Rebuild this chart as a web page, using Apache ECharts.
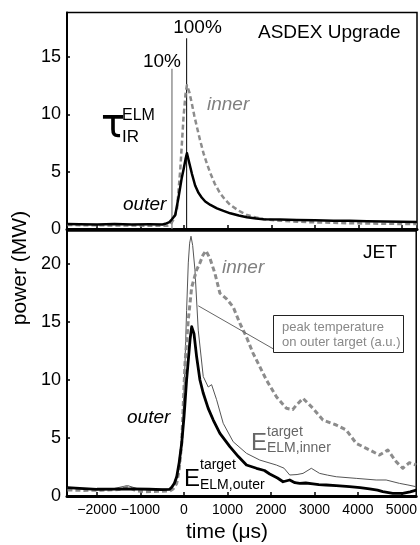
<!DOCTYPE html>
<html>
<head>
    <meta charset="UTF-8">
    <title>index.html</title>
    <script src="https://cdn.jsdelivr.net/npm/echarts@6/dist/echarts.min.js"></script>
    <style>
        html, body { margin: 0; padding: 0; background: #fff; }
        #chart { width: 420px; height: 545px; }
    </style>
</head>
<body>
<div id="chart"></div>
<script>
    // shared time axis (microseconds)
    var timeTicks = [-2000, -1000, 0, 1000, 2000, 3000, 4000, 5000];
    var augTicks = [0, 5, 10, 15];
    var jetTicks = [0, 5, 10, 15, 20];

    // ASDEX Upgrade, outer target power (MW)
    var augOuterT = [-2680, -2400, -2000, -1600, -1200, -800, -500, -436, -340, -282, -206, -130, -60, -16, 30, 61, 120, 177, 250, 328, 400, 482, 600, 750, 900, 1055, 1250, 1437, 1650, 1819, 2200, 2585, 3000, 3424, 3800, 4190, 4600, 5000, 5340];
    var augOuterP = [0.44, 0.42, 0.40, 0.43, 0.39, 0.41, 0.40, 0.45, 0.6, 0.85, 1.22, 2.8, 4.4, 5.2, 6.1, 6.62, 5.7, 4.8, 3.8, 3.15, 2.75, 2.4, 2.1, 1.8, 1.58, 1.37, 1.18, 1.03, 0.92, 0.86, 0.82, 0.79, 0.76, 0.73, 0.72, 0.68, 0.66, 0.63, 0.62];

    // ASDEX Upgrade, inner target power (MW)
    var augInnerT = [-2680, -2300, -1900, -1500, -1100, -700, -400, -321, -250, -167, -92, -16, 30, 61, 120, 177, 230, 291, 360, 443, 520, 596, 700, 826, 940, 1055, 1250, 1437, 1650, 1819, 2200, 2585, 3000, 3424, 3800, 4190, 4600, 5000, 5340];
    var augInnerP = [0.35, 0.33, 0.32, 0.30, 0.30, 0.28, 0.28, 0.35, 0.8, 1.7, 5.15, 9.8, 11.8, 12.55, 11.9, 10.9, 9.9, 8.9, 7.8, 6.6, 5.7, 4.9, 3.95, 3.1, 2.55, 2.1, 1.6, 1.22, 1.0, 0.86, 0.72, 0.64, 0.58, 0.54, 0.5, 0.48, 0.46, 0.44, 0.43];

    // 10% and 100% markers (time, top of line)
    var rise10T = -282, rise10Top = 14.0;
    var peakT = 55, peakTop = 16.65;

    // JET, outer target power (MW)
    var jetOuterT = [-2680, -2400, -2000, -1600, -1200, -800, -500, -330, -282, -220, -167, -110, -53, 0, 23, 60, 99, 140, 177, 230, 291, 367, 440, 557, 673, 826, 1055, 1250, 1437, 1667, 1850, 1972, 2150, 2278, 2431, 2550, 2661, 2800, 2966, 3100, 3272, 3500, 3807, 4050, 4266, 4450, 4572, 4801, 5030, 5200, 5340];
    var jetOuterP = [0.72, 0.65, 0.58, 0.60, 0.62, 0.58, 0.55, 0.58, 0.75, 1.1, 1.66, 2.9, 4.54, 6.8, 8.0, 10.0, 11.7, 13.5, 14.6, 14.0, 12.0, 10.0, 8.9, 7.56, 6.55, 5.4, 4.25, 3.4, 2.67, 2.39, 2.2, 1.9, 1.55, 1.23, 1.38, 1.15, 1.09, 1.12, 1.05, 0.98, 0.95, 0.9, 0.8, 0.72, 0.62, 0.5, 0.37, 0.23, 0.23, 0.35, 0.5];

    // JET, peak temperature on outer target (a.u.)
    var jetTempT = [-2680, -2400, -2000, -1600, -1300, -1000, -600, -330, -250, -167, -92, -30, 23, 60, 99, 130, 161, 200, 252, 328, 443, 557, 596, 635, 750, 902, 1131, 1437, 1743, 2125, 2300, 2431, 2600, 2737, 2928, 3119, 3300, 3502, 3961, 4419, 4649, 4954, 5150, 5340];
    var jetTempP = [0.72, 0.62, 0.55, 0.65, 0.9, 0.55, 0.6, 0.6, 0.9, 1.8, 2.8, 6.0, 11.4, 16.0, 20.1, 21.8, 22.4, 21.6, 19.5, 14.3, 10.3, 9.4, 9.3, 9.6, 8.3, 6.27, 4.68, 3.68, 3.1, 2.67, 2.4, 1.81, 1.85, 1.95, 2.39, 1.95, 1.8, 1.66, 1.52, 1.38, 1.38, 1.09, 0.95, 0.8];

    // JET, inner target power (MW)
    var jetInnerT = [-2680, -2300, -1900, -1500, -1300, -1100, -900, -600, -330, -250, -167, -110, -53, 23, 99, 177, 291, 367, 440, 505, 596, 711, 826, 979, 1131, 1284, 1437, 1590, 1743, 1896, 2125, 2355, 2500, 2585, 2737, 2966, 3195, 3502, 3731, 3961, 4266, 4495, 4686, 4878, 5030, 5183, 5340];
    var jetInnerP = [0.52, 0.48, 0.5, 0.55, 0.8, 0.45, 0.37, 0.4, 0.43, 0.6, 1.09, 2.3, 4.54, 11.4, 15.2, 18.0, 19.5, 20.1, 20.8, 21.15, 20.5, 19.2, 17.5, 17.0, 16.3, 14.9, 13.7, 12.3, 11.15, 10.0, 8.56, 7.56, 7.45, 7.84, 8.42, 7.56, 6.55, 6.12, 5.69, 4.54, 3.97, 3.53, 3.97, 2.96, 2.39, 2.87, 2.67];

    // leader line from temperature curve to its label box
    var leaderT = [328, 2048];
    var leaderP = [16.4, 12.7];

    function zip(t, p) {
        var out = [];
        for (var i = 0; i < t.length; i++) out.push([t[i], p[i]]);
        return out;
    }

    var font = '"Liberation Sans", Arial, sans-serif';
    var tMin = -2690, tMax = 5340;

    function xAxisOf(gridIndex, showLabels) {
        return {
            type: 'value', gridIndex: gridIndex, min: tMin, max: tMax,
            axisLine: {show: true, onZero: false, lineStyle: {color: '#000', width: 3}},
            axisTick: {show: true, inside: true, length: 4, customValues: timeTicks, lineStyle: {color: '#000', width: 1.5}},
            axisLabel: {show: showLabels, customValues: timeTicks, color: '#000', fontSize: 14, fontFamily: font, margin: 7,
                formatter: function (v) { return v < 0 ? '\u2212' + Math.abs(v) : String(v); }},
            splitLine: {show: false}
        };
    }

    function yAxisOf(gridIndex, max, ticks) {
        return {
            type: 'value', gridIndex: gridIndex, min: 0, max: max,
            axisLine: {show: true, onZero: false, lineStyle: {color: '#000', width: 2}},
            axisTick: {show: true, inside: true, length: 3, customValues: ticks, lineStyle: {color: '#000', width: 1.5}},
            axisLabel: {customValues: ticks, color: '#000', fontSize: 18, fontFamily: font, margin: 6},
            splitLine: {show: false}
        };
    }

    function line(name, xi, data, color, width, dashed) {
        return {
            name: name, type: 'line', xAxisIndex: xi, yAxisIndex: xi, data: data,
            symbol: 'none', silent: true,
            lineStyle: {color: color, width: width, type: dashed ? [5, 3] : 'solid', cap: 'butt', join: 'round'}
        };
    }

    function txt(x, y, s, size, color, extra) {
        var st = {text: s, x: 0, y: 0, fill: color || '#000', textVerticalAlign: 'middle', textAlign: 'left',
            font: (extra && extra.italic ? 'italic ' : '') + size + 'px ' + (extra && extra.family ? extra.family : font)};
        if (extra && extra.align) st.textAlign = extra.align;
        return {type: 'text', x: x, y: y, rotation: extra && extra.rot ? extra.rot : 0, style: st, z: 100};
    }

    var chart = echarts.init(document.getElementById('chart'), null, {renderer: 'canvas'});
    chart.setOption({
        animation: false,
        backgroundColor: '#fff',
        grid: [
            {left: 67, top: 12.5, right: 3, height: 216.5, show: true, borderColor: '#000', borderWidth: 1.5},
            {left: 67, top: 231, right: 3, height: 265, show: true, borderColor: '#000', borderWidth: 1.5}
        ],
        xAxis: [xAxisOf(0, false), xAxisOf(1, true)],
        yAxis: [yAxisOf(0, 18.9, augTicks), yAxisOf(1, 22.85, jetTicks)],
        series: [
            line('10%', 0, [[rise10T, 0], [rise10T, rise10Top]], '#777', 1.2, false),
            line('100%', 0, [[peakT, 0], [peakT, peakTop]], '#000', 1, false),
            line('AUG inner', 0, zip(augInnerT, augInnerP), '#8c8c8c', 2.5, true),
            line('AUG outer', 0, zip(augOuterT, augOuterP), '#000', 2.5, false),
            line('JET temperature', 1, zip(jetTempT, jetTempP), '#555', 1, false),
            line('JET inner', 1, zip(jetInnerT, jetInnerP), '#8c8c8c', 3, true),
            line('JET outer', 1, zip(jetOuterT, jetOuterP), '#000', 2.8, false),
            line('leader', 1, zip(leaderT, leaderP), '#666', 1, false)
        ],
        graphic: [
            // top panel labels
            txt(258, 33, 'ASDEX Upgrade', 19),
            txt(197.5, 28, '100%', 19, '#000', {align: 'center'}),
            txt(162, 62, '10%', 19, '#000', {align: 'center'}),
            txt(101, 127, '\u03c4', 40, '#000', {family: '"DejaVu Sans", sans-serif'}),
            txt(122, 116, 'ELM', 16),
            txt(122, 137, 'IR', 17),
            txt(207, 105, 'inner', 19, '#808080', {italic: true}),
            txt(123, 205, 'outer', 19, '#000', {italic: true}),
            // bottom panel labels
            txt(363, 253, 'JET', 19),
            txt(222, 268, 'inner', 19, '#808080', {italic: true}),
            txt(127, 418, 'outer', 19, '#000', {italic: true}),
            txt(251, 443, 'E', 24, '#666'),
            txt(267, 432, 'target', 14, '#666'),
            txt(267, 448, 'ELM,inner', 14, '#666'),
            txt(184, 479, 'E', 24, '#000'),
            txt(200, 465, 'target', 14, '#000'),
            txt(200, 485, 'ELM,outer', 14, '#000'),
            {type: 'rect', shape: {x: 273.5, y: 315.5, width: 130, height: 37}, style: {fill: '#fff', stroke: '#222', lineWidth: 1}, z: 99},
            txt(282, 327, 'peak temperature', 13, '#888'),
            txt(282, 342, 'on outer target (a.u.)', 13, '#888'),
            // axis titles
            txt(227, 532, 'time (\u03bcs)', 21, '#000', {align: 'center'}),
            txt(20, 268, 'power (MW)', 21, '#000', {align: 'center', rot: Math.PI / 2})
        ]
    });
</script>
</body>
</html>
